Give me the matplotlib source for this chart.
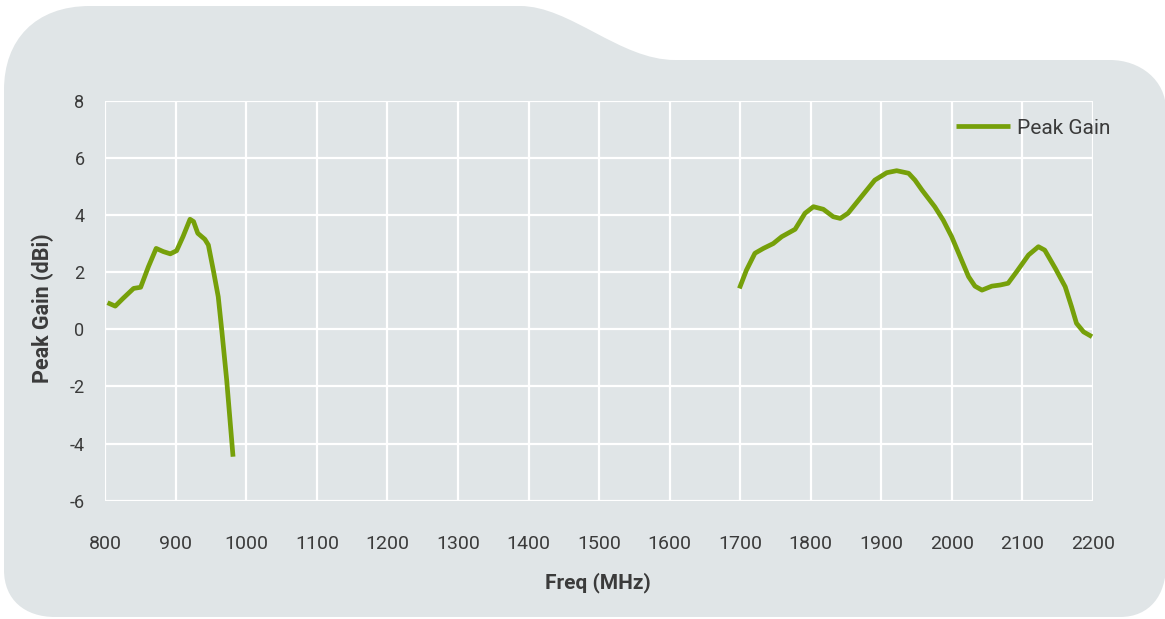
import numpy as np
import matplotlib.pyplot as plt
from matplotlib.path import Path
from matplotlib.patches import PathPatch

# Peak gain readings (MHz, dBi); the gap between bands is left as NaN
freq_low = [803, 814, 825, 840, 850, 861, 872, 882, 892, 901, 910, 920, 925,
            931, 941, 946, 953, 960, 965, 972, 981]
gain_low = [0.93, 0.81, 1.08, 1.43, 1.47, 2.19, 2.83, 2.72, 2.64, 2.75, 3.24,
            3.85, 3.77, 3.36, 3.15, 2.95, 2.07, 1.14, -0.03, -1.78, -4.46]

freq_high = [1699, 1709, 1721, 1733, 1747, 1759, 1778, 1792, 1804, 1818, 1832,
             1842, 1853, 1872, 1891, 1908, 1922, 1939, 1948, 1958, 1976, 1988,
             2000, 2012, 2024, 2033, 2043, 2057, 2069, 2080, 2092, 2109, 2123,
             2132, 2147, 2161, 2170, 2177, 2187, 2199]
gain_high = [1.43, 2.07, 2.66, 2.83, 3.00, 3.24, 3.50, 4.06, 4.29, 4.20, 3.94,
             3.88, 4.06, 4.64, 5.22, 5.48, 5.55, 5.46, 5.22, 4.87, 4.29, 3.82,
             3.24, 2.54, 1.84, 1.51, 1.37, 1.51, 1.55, 1.61, 2.01, 2.60, 2.89,
             2.77, 2.13, 1.49, 0.79, 0.21, -0.09, -0.26]

x_ticks = list(range(800, 2201, 100))
y_ticks = list(range(-6, 9, 2))

W, H = 1165, 619
bg = "#e0e5e7"
green = "#76a00a"
txt = "#3b3b3b"

plt.rcParams['font.family'] = ['Roboto', 'DejaVu Sans']
plt.rcParams['axes.unicode_minus'] = False

fig = plt.figure(figsize=(W / 100, H / 100), dpi=100)
fig.patch.set_facecolor("white")


def P(x, y):
    return (x / W, 1 - y / H)


# gray card with a notch at the top right
verts = [P(4, 90), P(4, 570), P(4, 600), P(25, 617), P(55, 617),
         P(1120, 617), P(1150, 617), P(1166, 595), P(1166, 565),
         P(1166, 110), P(1166, 80), P(1140, 60), P(1110, 60),
         P(675, 60), P(620, 60), P(570, 6), P(520, 6),
         P(90, 6), P(35, 6), P(4, 40), P(4, 90)]
codes = [Path.MOVETO, Path.LINETO, Path.CURVE4, Path.CURVE4, Path.CURVE4,
         Path.LINETO, Path.CURVE4, Path.CURVE4, Path.CURVE4,
         Path.LINETO, Path.CURVE4, Path.CURVE4, Path.CURVE4,
         Path.LINETO, Path.CURVE4, Path.CURVE4, Path.CURVE4,
         Path.LINETO, Path.CURVE4, Path.CURVE4, Path.CURVE4]
fig.patches.append(PathPatch(Path(verts, codes), transform=fig.transFigure,
                             facecolor=bg, edgecolor="none", zorder=-1))

ax = fig.add_axes([105.4 / W, 1 - 500.7 / H, 987.3 / W, 400 / H])
ax.set_zorder(1)
ax.patch.set_visible(False)

freq = freq_low + [np.nan] + freq_high
gain = gain_low + [np.nan] + gain_high
ax.plot(freq, gain, color=green, lw=3.4, solid_joinstyle="round",
        solid_capstyle="butt", label="Peak Gain", zorder=3)

ax.set_xlim(800, 2200)
ax.set_ylim(-6, 8)
ax.set_xticks(x_ticks)
ax.set_yticks(y_ticks)
ax.grid(True, color="white", lw=1.6)
ax.set_axisbelow(True)
for s in ax.spines.values():
    s.set_visible(False)
ax.tick_params(length=0, labelcolor=txt)
ax.tick_params(axis="x", pad=25, labelsize=14)
ax.tick_params(axis="y", pad=15, labelsize=13)

ax.set_xlabel("Freq (MHz)", fontsize=15, fontweight="bold", color=txt, va="center")
ax.set_ylabel("Peak Gain (dBi)", fontsize=15.5, fontweight="bold", color=txt, va="center")
ax.xaxis.set_label_coords((598 - 105.4) / 987.3, -(583 - 500.7) / 400)
ax.yaxis.set_label_coords((43 - 105.4) / 987.3, (500.7 - 308) / 400)

ax.legend(loc="center left", bbox_to_anchor=(956 / W, 1 - 128 / H),
          bbox_transform=fig.transFigure, frameon=False, fontsize=15,
          handlelength=2.6, handletextpad=0.35, labelcolor=txt,
          borderaxespad=0, borderpad=0)

fig.savefig("out.png", dpi=100)
